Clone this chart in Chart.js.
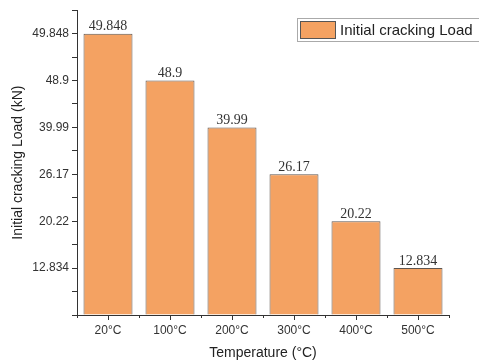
<!DOCTYPE html>
<html>
<head>
<meta charset="utf-8">
<script src="https://cdn.jsdelivr.net/npm/chart.js@4.4.1/dist/chart.umd.min.js"></script>
<style>
  html, body { margin: 0; padding: 0; background: #fff; }
  #wrap { width: 479px; height: 362px; }
</style>
</head>
<body>
<div id="wrap"><canvas id="chart" width="479" height="362"></canvas></div>
<script>
// data
const temps = ['20°C', '100°C', '200°C', '300°C', '400°C', '500°C'];
const loads = [49.848, 48.9, 39.99, 26.17, 20.22, 12.834];
const loadLabels = ['49.848', '48.9', '39.99', '26.17', '20.22', '12.834'];
// the y axis is labelled by rank, lowest load at level 1
const yTickLabels = ['12.834', '20.22', '26.17', '39.99', '48.9', '49.848'];

const levels = loads.map(v => loads.filter(w => w <= v).length);

const barColor = '#f4a262';
const axisColor = '#333';
const sans = '"Liberation Sans", Arial, sans-serif';

// value text above each bar
const valueLabels = {
  id: 'valueLabels',
  afterDatasetsDraw(chart) {
    const ctx = chart.ctx;
    const meta = chart.getDatasetMeta(0);
    ctx.save();
    ctx.font = '14px "Liberation Serif", "Times New Roman", serif';
    ctx.fillStyle = '#333';
    ctx.textAlign = 'center';
    ctx.textBaseline = 'bottom';
    meta.data.forEach((bar, i) => {
      ctx.fillText(loadLabels[i], bar.x, bar.y);
    });
    ctx.restore();
  }
};

// boxed legend in the top right corner
const boxLegend = {
  id: 'boxLegend',
  afterDraw(chart) {
    const ctx = chart.ctx;
    const ds = chart.data.datasets[0];
    ctx.save();
    ctx.strokeStyle = '#aaa';
    ctx.lineWidth = 1;
    ctx.strokeRect(297.5, 18.5, 182, 23);
    ctx.fillStyle = barColor;
    ctx.fillRect(300, 21, 36, 18);
    ctx.strokeStyle = '#555';
    ctx.strokeRect(300.5, 21.5, 35, 17);
    ctx.font = '15px ' + sans;
    ctx.fillStyle = '#222';
    ctx.textBaseline = 'middle';
    ctx.fillText(ds.label, 340, 30.5);
    ctx.restore();
  }
};

// minor ticks between categories on the x axis
const minorTicks = {
  id: 'minorTicks',
  afterDraw(chart) {
    const ctx = chart.ctx;
    const x = chart.scales.x;
    const yb = chart.chartArea.bottom;
    ctx.save();
    ctx.strokeStyle = axisColor;
    ctx.lineWidth = 1;
    ctx.beginPath();
    for (let i = 0; i <= temps.length; i++) {
      const px = Math.round(x.getPixelForValue(i - 0.5)) + 0.5;
      ctx.moveTo(px, yb);
      ctx.lineTo(px, yb + 3);
    }
    ctx.stroke();
    ctx.restore();
  }
};

new Chart(document.getElementById('chart'), {
  type: 'bar',
  data: {
    labels: temps,
    datasets: [{
      label: 'Initial cracking Load',
      data: levels,
      backgroundColor: barColor,
      borderColor: '#5e5650',
      borderWidth: 1,
      borderSkipped: 'bottom',
      barPercentage: 0.79,
      categoryPercentage: 1
    }]
  },
  options: {
    responsive: false,
    animation: false,
    layout: { padding: { top: 10, right: 30, bottom: 0, left: 0 } },
    plugins: {
      legend: { display: false },
      tooltip: { enabled: false }
    },
    scales: {
      x: {
        grid: {
          display: true,
          drawOnChartArea: false,
          offset: false,
          tickLength: 5,
          tickColor: axisColor
        },
        border: { color: axisColor, width: 1 },
        ticks: {
          color: '#333',
          padding: 3,
          maxRotation: 0,
          font: { family: sans, size: 12 }
        },
        title: {
          display: true,
          text: 'Temperature (°C)',
          color: '#222',
          padding: { top: 0, bottom: 0 },
          font: { family: sans, size: 14 }
        },
        afterFit(scale) { scale.height = 47; }
      },
      y: {
        min: 0,
        max: 6.5,
        grid: {
          display: true,
          drawOnChartArea: false,
          tickLength: 5,
          tickColor: axisColor
        },
        border: { color: axisColor, width: 1 },
        ticks: {
          stepSize: 0.5,
          autoSkip: false,
          padding: 3,
          color: '#333',
          font: { family: sans, size: 12 },
          callback: v => (Number.isInteger(v) && v > 0) ? yTickLabels[v - 1] : ''
        },
        title: {
          display: true,
          text: 'Initial cracking Load (kN)',
          color: '#222',
          padding: { top: 10, bottom: 0 },
          font: { family: sans, size: 14 }
        },
        afterFit(scale) { scale.width = 77; }
      }
    }
  },
  plugins: [valueLabels, boxLegend, minorTicks]
});
</script>
</body>
</html>
